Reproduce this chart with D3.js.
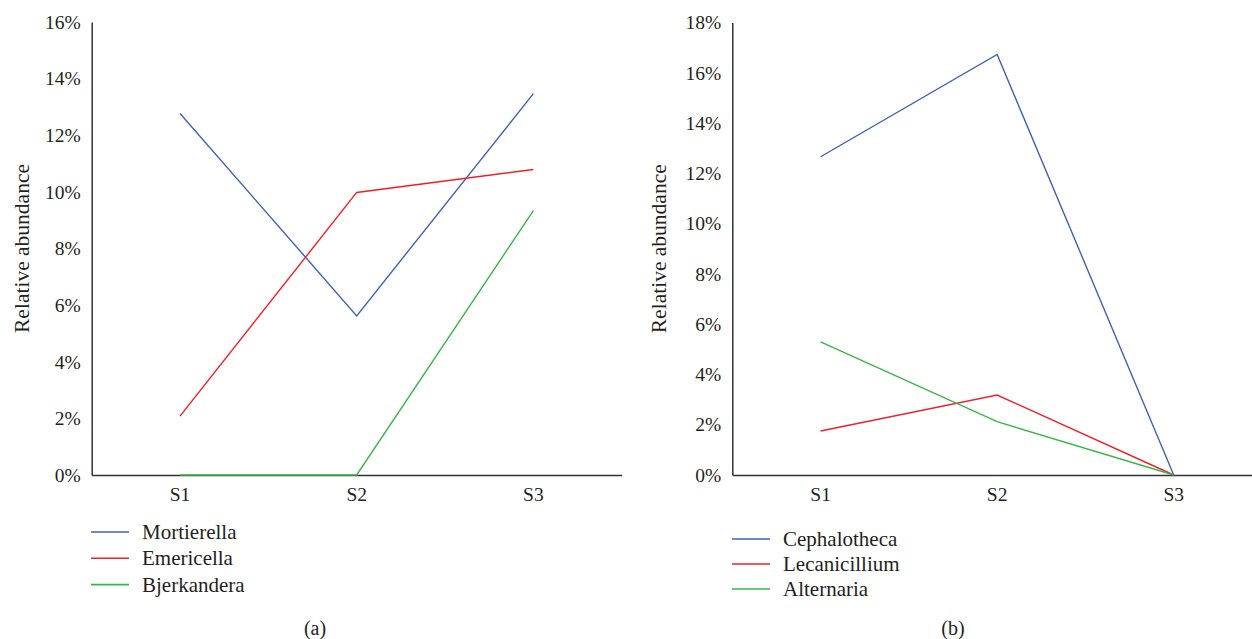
<!DOCTYPE html>
<html><head><meta charset="utf-8">
<script src="https://cdn.jsdelivr.net/npm/d3@7"></script>
<style>
html,body{margin:0;padding:0;background:#fff;}
svg text{font-family:"Liberation Serif","Times New Roman",serif;fill:#231f20;}
</style></head>
<body>
<svg id="c" width="1252" height="639"></svg>
<script>
const samples = ["S1","S2","S3"];

const seriesA = ["Mortierella","Emericella","Bjerkandera"];
const mortierella = [12.77, 5.62, 13.47];
const emericella = [2.08, 9.98, 10.79];
const bjerkandera = [0, 0, 9.34];
const ticksA = [0,2,4,6,8,10,12,14,16];

const seriesB = ["Cephalotheca","Lecanicillium","Alternaria"];
const cephalotheca = [12.66, 16.73, 0];
const lecanicillium = [1.75, 3.18, 0];
const alternaria = [5.30, 2.12, 0];
const ticksB = [0,2,4,6,8,10,12,14,16,18];

const colors = ["#4162b2","#f0202a","#3bb54a"];

const svg = d3.select("#c");

function panel(cfg){
  const g = svg.append("g");
  const x = d3.scaleBand().domain(samples).range([cfg.x0, cfg.x1]);
  const y = d3.scaleLinear().domain([0, cfg.max]).range([cfg.y0, cfg.yTop]);

  const ya = g.append("g").attr("transform", `translate(${cfg.x0},0)`)
    .call(d3.axisLeft(y).tickValues(cfg.ticks).tickSize(0).tickSizeOuter(0).tickPadding(11).tickFormat(d => d + "%"));
  ya.select(".domain").attr("stroke","#333").attr("stroke-width",1.5);
  ya.selectAll("text").attr("font-size",19.5).attr("fill","#231f20");

  const xa = g.append("g").attr("transform", `translate(0,${cfg.y0})`)
    .call(d3.axisBottom(x).tickSize(0).tickSizeOuter(0).tickPadding(12));
  xa.select(".domain").attr("stroke","#333").attr("stroke-width",1.5);
  xa.selectAll("text").attr("font-size",19.5).attr("fill","#231f20");

  g.append("text").attr("transform", `translate(${cfg.titleX},${(cfg.y0+cfg.yTop)/2}) rotate(-90)`)
    .attr("text-anchor","middle").attr("dominant-baseline","central")
    .attr("font-size",21.5).text("Relative abundance");

  const line = d3.line().x((d,i) => x(samples[i]) + x.bandwidth()/2).y(d => y(d));
  cfg.data.forEach((vals, k) => {
    g.append("path").datum(vals).attr("d", line)
      .attr("fill","none").attr("stroke", colors[k]).attr("stroke-width",1.4);
  });

  cfg.names.forEach((n, k) => {
    const ly = cfg.legY + k*cfg.legStep;
    g.append("line").attr("x1", cfg.legX).attr("x2", cfg.legX+38).attr("y1", ly).attr("y2", ly)
      .attr("stroke", colors[k]).attr("stroke-width",1.6);
    g.append("text").attr("x", cfg.legX+51).attr("y", ly).attr("dominant-baseline","central")
      .attr("font-size",21).text(n);
  });

  g.append("text").attr("x", cfg.capX).attr("y", 628).attr("text-anchor","middle")
    .attr("dominant-baseline","central").attr("font-size",20).text(cfg.cap);
}

panel({x0:91.7, x1:621.7, y0:475, yTop:22, max:16, ticks:ticksA, titleX:22,
  data:[mortierella, emericella, bjerkandera], names:seriesA,
  legX:91, legY:532, legStep:26.3, capX:315, cap:"(a)"});

panel({x0:732.3, x1:1262, y0:475, yTop:22.5, max:18, ticks:ticksB, titleX:659,
  data:[cephalotheca, lecanicillium, alternaria], names:seriesB,
  legX:732, legY:539, legStep:25, capX:953, cap:"(b)"});
</script>
</body></html>
